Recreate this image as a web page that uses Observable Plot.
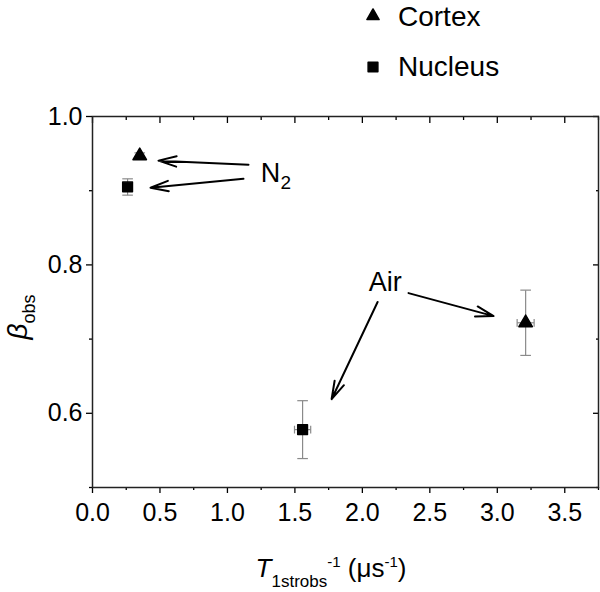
<!DOCTYPE html>
<html>
<head>
<meta charset="utf-8">
<script src="https://cdn.jsdelivr.net/npm/d3@7"></script>
<script src="https://cdn.jsdelivr.net/npm/@observablehq/plot@0.6"></script>
<style>
  body { margin: 0; background: white; font-family: "Liberation Sans", Arial, sans-serif; }
  #legend { position: relative; width: 600px; height: 95px; }
  #legend .item { position: absolute; font-size: 28px; line-height: 28px; color: black; }
</style>
</head>
<body>
<div id="legend"></div>
<div id="chart"></div>
<script>
// ---- data ----
const series = ["Cortex", "Cortex", "Nucleus", "Nucleus"];
const gas = ["N2", "Air", "N2", "Air"];
const xVal = [0.35, 3.21, 0.26, 1.557];
const yVal = [0.947, 0.722, 0.905, 0.578];
const xErr = [0.02, 0.063, 0.02, 0.06];
const yErr = [0.004, 0.044, 0.011, 0.039];

const xMajor = [0, 0.5, 1.0, 1.5, 2.0, 2.5, 3.0, 3.5];
const xMinor = [0.25, 0.75, 1.25, 1.75, 2.25, 2.75, 3.25, 3.75];
const yMajor = [0.6, 0.8, 1.0];
const yMinor = [0.5, 0.7, 0.9];

// annotation arrows (data coordinates)
const arrowX1 = [1.156, 1.119, 2.113, 2.342];
const arrowY1 = [0.935, 0.916, 0.750, 0.762];
const arrowX2 = [0.489, 0.430, 1.772, 2.973];
const arrowY2 = [0.9405, 0.904, 0.619, 0.731];
const annText = ["N", "Air"];
const annX = [1.32, 2.17];
const annY = [0.924, 0.776];

const legendNames = ["Cortex", "Nucleus"];
const symbolOf = {Cortex: "triangle", Nucleus: "square"};

// ---- tables ----
const points = series.map((s, i) => ({series: s, gas: gas[i], x: xVal[i], y: yVal[i], ex: xErr[i], ey: yErr[i]}));
const arrows = arrowX1.map((d, i) => ({x1: d, y1: arrowY1[i], x2: arrowX2[i], y2: arrowY2[i]}));
const anns = annText.map((t, i) => ({t, x: annX[i], y: annY[i]}));

// custom symbols for error-bar caps
const hcap = {draw(ctx, size) { const w = Math.sqrt(size); ctx.moveTo(-w, 0); ctx.lineTo(w, 0); }};
const vcap = {draw(ctx, size) { const w = Math.sqrt(size); ctx.moveTo(0, -w); ctx.lineTo(0, w); }};

const fnt = "'Liberation Sans', Arial, sans-serif";

const plot = Plot.plot({
  width: 600,
  height: 497,
  marginTop: 21,
  marginLeft: 92,
  marginRight: 2,
  marginBottom: 105,
  x: {domain: [0, 3.75]},
  y: {domain: [0.5, 1.0]},
  style: {fontFamily: fnt, fontSize: "25px", color: "black", background: "white"},
  marks: [
    // axes
    Plot.axisX(xMajor, {anchor: "bottom", tickSize: 6, tickPadding: 10, tickFormat: d => d.toFixed(1), fontSize: 25, label: null, strokeWidth: 1.3}),
    Plot.axisX(xMinor, {anchor: "bottom", tickSize: 3, tickFormat: () => "", label: null, strokeWidth: 1.3}),
    Plot.axisX(xMajor, {anchor: "top", tickSize: -6, tickFormat: () => "", label: null, strokeWidth: 1.3}),
    Plot.axisX(xMinor, {anchor: "top", tickSize: -3, tickFormat: () => "", label: null, strokeWidth: 1.3}),
    Plot.axisY(yMajor, {anchor: "left", tickSize: 6, tickPadding: 4, tickFormat: d => d.toFixed(1), fontSize: 25, label: null, strokeWidth: 1.3}),
    Plot.axisY(yMinor, {anchor: "left", tickSize: 3, tickFormat: () => "", label: null, strokeWidth: 1.3}),
    Plot.axisY(yMajor, {anchor: "right", tickSize: -6, tickFormat: () => "", label: null, strokeWidth: 1.3}),
    Plot.axisY(yMinor, {anchor: "right", tickSize: -3, tickFormat: () => "", label: null, strokeWidth: 1.3}),
    Plot.frame({stroke: "#222", strokeWidth: 1.5}),
    // error bars
    Plot.link(points, {x1: "x", x2: "x", y1: d => d.y - d.ey, y2: d => d.y + d.ey, stroke: "#8a8a8a", strokeWidth: 1.2}),
    Plot.link(points, {x1: d => d.x - d.ex, x2: d => d.x + d.ex, y1: "y", y2: "y", stroke: "#8a8a8a", strokeWidth: 1.2}),
    Plot.dot(points, {x: "x", y: d => d.y + d.ey, symbol: hcap, r: 3, stroke: "#8a8a8a", strokeWidth: 1.2}),
    Plot.dot(points, {x: "x", y: d => d.y - d.ey, symbol: hcap, r: 3, stroke: "#8a8a8a", strokeWidth: 1.2}),
    Plot.dot(points, {x: d => d.x + d.ex, y: "y", symbol: vcap, r: 2.2, stroke: "#8a8a8a", strokeWidth: 1.2}),
    Plot.dot(points, {x: d => d.x - d.ex, y: "y", symbol: vcap, r: 2.2, stroke: "#8a8a8a", strokeWidth: 1.2}),
    // markers
    Plot.dot(points.filter(d => d.series === "Cortex"), {x: "x", y: "y", symbol: "triangle", r: 5, fill: "black", stroke: "black", strokeWidth: 1.5, strokeLinejoin: "round"}),
    Plot.dot(points.filter(d => d.series === "Nucleus"), {x: "x", y: "y", symbol: "square", r: 5.5, fill: "black", stroke: "black", strokeWidth: 1.5, strokeLinejoin: "round"}),
    // annotations
    Plot.arrow(arrows, {x1: "x1", y1: "y1", x2: "x2", y2: "y2", stroke: "black", strokeWidth: 2, headLength: 14, headAngle: 32}),
    Plot.text(anns, {x: "x", y: "y", text: "t", fontSize: 27, fill: "black", textAnchor: "middle"}),
    Plot.text(anns.filter(d => d.t === "N"), {x: "x", y: "y", text: () => "2", fontSize: 19, fill: "black", textAnchor: "start", dx: 10, dy: 10})
  ]
});

document.getElementById("chart").appendChild(plot);

// axis titles with sub/superscripts
const svg = d3.select(plot);
const xt = svg.append("text")
  .attr("x", 331).attr("y", 482)
  .attr("text-anchor", "middle")
  .attr("font-family", fnt).attr("font-size", 26).attr("fill", "black");
xt.append("tspan").attr("font-style", "italic").text("T");
xt.append("tspan").attr("font-size", 17).attr("dy", 10).text("1strobs");
xt.append("tspan").attr("font-size", 15).attr("dy", -20).text("-1");
xt.append("tspan").attr("dy", 10).text(" (\u03BCs");
xt.append("tspan").attr("font-size", 15).attr("dy", -10).text("-1");
xt.append("tspan").attr("dy", 10).text(")");

const yt = svg.append("text")
  .attr("transform", "translate(27,222) rotate(-90)")
  .attr("text-anchor", "middle")
  .attr("font-family", fnt).attr("font-size", 28).attr("fill", "black");
yt.append("tspan").attr("font-style", "italic").text("\u03B2");
yt.append("tspan").attr("font-size", 18).attr("dy", 8).text("obs");

// legend
const leg = d3.select("#legend");
const legPos = [{sy: 16, ty: 3}, {sy: 67, ty: 53}];
legendNames.forEach((name, i) => {
  const s = leg.append("svg").style("position", "absolute")
    .style("left", "363px").style("top", (legPos[i].sy - 10) + "px")
    .attr("width", 20).attr("height", 20);
  s.append("path")
    .attr("transform", "translate(10,10)")
    .attr("d", d3.symbol(symbolOf[name] === "triangle" ? d3.symbolTriangle : d3.symbolSquare, symbolOf[name] === "triangle" ? 65 : 95)())
    .attr("fill", "black").attr("stroke", "black").attr("stroke-width", 1.5).attr("stroke-linejoin", "round");
  leg.append("div").attr("class", "item")
    .style("left", "398px").style("top", legPos[i].ty + "px")
    .text(name);
});
</script>
</body>
</html>
